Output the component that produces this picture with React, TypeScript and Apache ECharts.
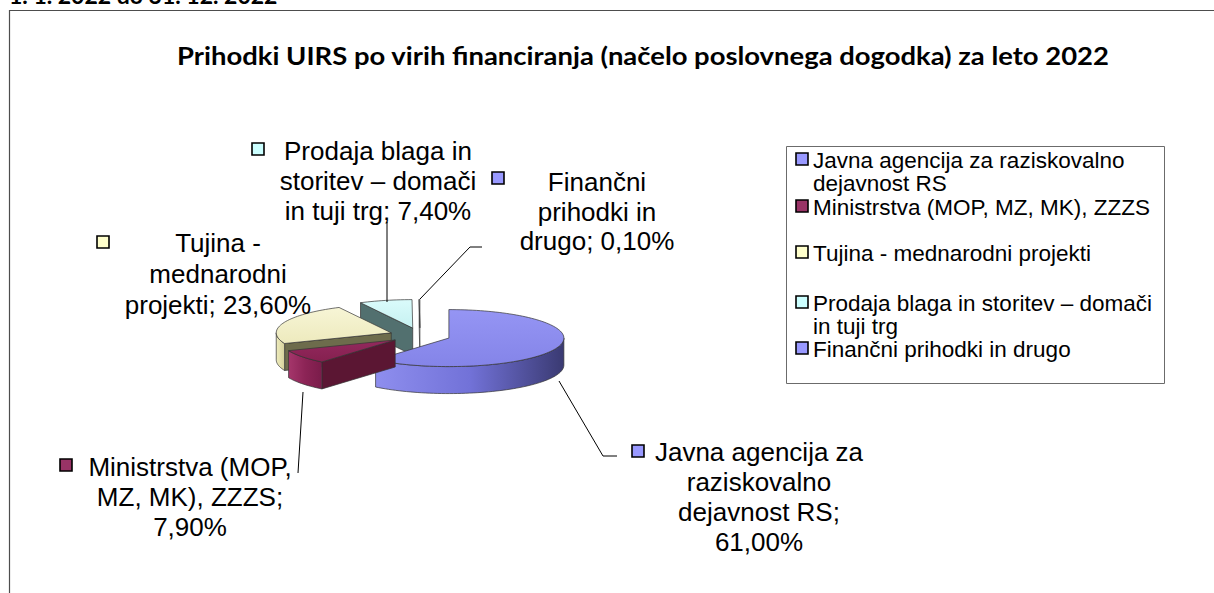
import { useEffect, useRef } from "react";
import * as echarts from "echarts";

// ---------- data ----------
const periodText = "1. 1. 2022 do 31. 12. 2022";
const titleText =
  "Prihodki UIRS po virih financiranja (načelo poslovnega dogodka) za leto 2022";
const categories = [
  "Javna agencija za raziskovalno dejavnost RS",
  "Ministrstva (MOP, MZ, MK), ZZZS",
  "Tujina - mednarodni projekti",
  "Prodaja blaga in storitev – domači in tuji trg",
  "Finančni prihodki in drugo",
];
const shares = [61.0, 7.9, 23.6, 7.4, 0.1];
const keyColors = ["#9999FF", "#993366", "#FFFFCC", "#CCFFFF", "#9999FF"];

// ---------- styling / layout ----------
const shading = [
  { top: ["#9595F4", "#8484E8"], side: ["#8E8EEE", "#7272D8", "#3A3A72"], wall: "#45458A" },
  { top: ["#93295E", "#85204F"], side: ["#A5366B", "#8C2456", "#7A1C4A"], wall: "#5B1633" },
  { top: ["#F7F5D6", "#EDEABD"], side: ["#EFECBE", "#E2DFAC", "#D4D09C"], wall: "#6D6C4C" },
  { top: ["#DAFBFB", "#C6F1F1"], side: ["#C6F1F1", "#B0DCDC", "#9EC9C9"], wall: "#52706F" },
  { top: ["#FFFFFF", "#F4F4FF"], side: ["#FFFFFF", "#F4F4FF", "#EEEEFF"], wall: "#FFFFFF" },
];
const EDGE = "#333333";
const PIE = { cx: 420, cy: 335.5, rx: 115, ry: 28.5, h: 27, explode: 0.267 };
const LABEL_FONT = "26px 'Liberation Sans', Arial, sans-serif";
const LEGEND_FONT = "22.5px 'Liberation Sans', Arial, sans-serif";
const TITLE_FONT = "bold 25px Lato, 'Open Sans', sans-serif";
const labelLayout = [
  { x: 759, y: 452, lh: 30, breaks: [3, 1, 2, 1], key: [632, 445], leader: [[559, 381], [603, 456], [617, 456]] },
  { x: 190, y: 467, lh: 30, breaks: [2, 3, 1], key: [60, 459], leader: [[303, 392], [298, 473]] },
  { x: 218, y: 243, lh: 31, breaks: [2, 1, 2], key: [97, 236], leader: null },
  { x: 378, y: 151, lh: 30, breaks: [3, 3, 4], key: [252, 143], leader: [[387, 222], [387, 302]] },
  { x: 597, y: 182, lh: 29.5, breaks: [1, 2, 2], key: [492, 172], leader: [[420, 299], [470, 247], [482, 247]] },
];
const legendLayout = {
  box: [786.5, 146.5, 378, 237],
  keyX: 796,
  textX: 813,
  lh: 23,
  rows: [160, 207, 253, 303, 349],
  breaks: [[4, 2], [5], [4], [6, 3], [4]],
};

// ---------- helpers ----------
const RAD = Math.PI / 180;
const fmtPct = (v: number) => v.toFixed(2).replace(".", ",") + "%";
const splitLines = (text: string, counts: number[]) => {
  const words = text.split(" ");
  const out: string[] = [];
  let k = 0;
  counts.forEach((c) => {
    out.push(words.slice(k, k + c).join(" "));
    k += c;
  });
  return out.join("\n");
};
const pt = (cx: number, cy: number, a: number, dy = 0) => [
  cx + PIE.rx * Math.sin(a * RAD),
  cy - PIE.ry * Math.cos(a * RAD) + dy,
];
const arc = (cx: number, cy: number, a1: number, a2: number, dy = 0) => {
  const n = Math.max(2, Math.ceil((a2 - a1) / 2));
  const pts: number[][] = [];
  for (let k = 0; k <= n; k++) pts.push(pt(cx, cy, a1 + ((a2 - a1) * k) / n, dy));
  return pts;
};
const grad = (colors: string[], horizontal: boolean) =>
  new echarts.graphic.LinearGradient(
    0,
    0,
    horizontal ? 1 : 0,
    horizontal ? 0 : 1,
    colors.map((c, i) => ({ offset: i / (colors.length - 1), color: c }))
  );

const renderItem = (params: any, api: any) => {
  const i = params.dataIndex;
  const total = shares.reduce((s, v) => s + v, 0);
  const before = shares.slice(0, i).reduce((s, v) => s + v, 0);
  const v = api.value(0);
  const a1 = (before / total) * 360;
  const a2 = ((before + v) / total) * 360;
  const mid = (a1 + a2) / 2;
  const cx = PIE.cx + PIE.explode * PIE.rx * Math.sin(mid * RAD);
  const cy = PIE.cy - PIE.explode * PIE.ry * Math.cos(mid * RAD);
  const z = Math.round(cy * 10);
  const sh = shading[i];
  const edge = { stroke: EDGE, lineWidth: 0.7, lineJoin: "round" };
  const children: any[] = [];

  const addWall = (a: number, normal: number) => {
    if (Math.cos(normal * RAD) < -1e-3) {
      const p = pt(cx, cy, a);
      children.push({
        type: "polygon",
        z2: z,
        shape: { points: [[cx, cy], p, [p[0], p[1] + PIE.h], [cx, cy + PIE.h]] },
        style: { fill: sh.wall, ...edge },
      });
    }
  };
  addWall(a1, a1 - 90);
  addWall(a2, a2 + 90);

  const s1 = Math.max(a1, 90);
  const s2 = Math.min(a2, 270);
  if (s2 > s1) {
    const topArc = arc(cx, cy, s1, s2);
    const botArc = arc(cx, cy, s1, s2, PIE.h).reverse();
    children.push({
      type: "polygon",
      z2: z + 1,
      shape: { points: topArc.concat(botArc) },
      style: { fill: grad(sh.side, true), ...edge },
    });
  }

  children.push({
    type: "polygon",
    z2: z + 2,
    shape: { points: [[cx, cy]].concat(arc(cx, cy, a1, a2)) },
    style: { fill: grad(sh.top, false), ...edge },
  });

  const L = labelLayout[i];
  const label = splitLines(`${categories[i]}; ${fmtPct(v)}`, L.breaks);
  children.push({
    type: "text",
    z2: 100000,
    style: {
      text: label,
      x: L.x,
      y: L.y - L.lh / 2,
      textAlign: "center",
      textVerticalAlign: "top",
      lineHeight: L.lh,
      font: LABEL_FONT,
      fill: "#000000",
    },
  });
  children.push({
    type: "rect",
    z2: 100000,
    shape: { x: L.key[0], y: L.key[1], width: 12, height: 12 },
    style: { fill: keyColors[i], stroke: "#000000", lineWidth: 1.6 },
  });
  if (L.leader) {
    children.push({
      type: "polyline",
      z2: 100000,
      shape: { points: L.leader },
      style: { stroke: "#000000", lineWidth: 1, fill: null },
    });
  }
  return { type: "group", children };
};

const buildLegend = () => {
  const els: any[] = [];
  const [bx, by, bw, bh] = legendLayout.box;
  els.push({
    type: "rect",
    shape: { x: bx, y: by, width: bw, height: bh },
    style: { fill: "#ffffff", stroke: "#6b6b6b", lineWidth: 1 },
  });
  categories.forEach((name, i) => {
    const ry = legendLayout.rows[i];
    els.push({
      type: "rect",
      shape: { x: legendLayout.keyX, y: ry - 7, width: 12, height: 12 },
      style: { fill: keyColors[i], stroke: "#000000", lineWidth: 1.6 },
    });
    els.push({
      type: "text",
      style: {
        text: splitLines(name, legendLayout.breaks[i]),
        x: legendLayout.textX,
        y: ry - legendLayout.lh / 2,
        textAlign: "left",
        textVerticalAlign: "top",
        lineHeight: legendLayout.lh,
        font: LEGEND_FONT,
        fill: "#000000",
      },
    });
  });
  return els;
};

export default function App() {
  const ref = useRef<HTMLDivElement>(null);
  useEffect(() => {
    if (!ref.current) return;
    const chart = echarts.init(ref.current, null, { renderer: "svg" });
    chart.setOption({
      animation: false,
      backgroundColor: "#ffffff",
      graphic: [
        {
          type: "rect",
          shape: { x: 9.5, y: 10.5, width: 1300, height: 700 },
          style: { fill: "none", stroke: "#4d4d4d", lineWidth: 1.2 },
        },
        {
          type: "text",
          style: {
            text: periodText,
            x: 9,
            y: -5,
            textAlign: "left",
            textVerticalAlign: "middle",
            font: "bold 23px Lato, sans-serif",
            fill: "#000000",
          },
        },
        {
          type: "text",
          x: 643,
          y: 55,
          scaleX: 1.097,
          style: {
            text: titleText,
            x: 0,
            y: 0,
            textAlign: "center",
            textVerticalAlign: "middle",
            font: TITLE_FONT,
            fill: "#000000",
          },
        },
        ...buildLegend(),
      ],
      series: [
        {
          type: "custom",
          coordinateSystem: "none",
          silent: true,
          renderItem,
          data: shares.map((v, i) => ({ name: categories[i], value: v })),
        },
      ],
    });
    return () => chart.dispose();
  }, []);
  return (
    <div
      ref={ref}
      style={{ position: "fixed", left: 0, top: 0, width: 1214, height: 593 }}
    />
  );
}
